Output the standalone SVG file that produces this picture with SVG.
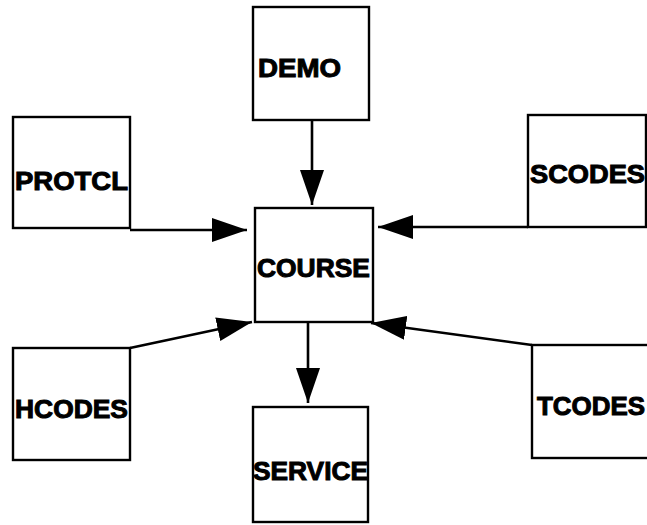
<svg xmlns="http://www.w3.org/2000/svg" width="647" height="525" viewBox="0 0 647 525">
<style>
.box{fill:#fff;stroke:#000;stroke-width:2.4}
.lbl{font-family:"Liberation Sans",Arial,sans-serif;font-weight:bold;font-size:26px;fill:#000;stroke:#000;stroke-width:1}
.con{stroke:#000;stroke-width:2.6;fill:none;marker-end:url(#ah)}
</style>
<defs>
<marker id="ah" markerUnits="userSpaceOnUse" markerWidth="38" markerHeight="26" refX="35" refY="12" orient="auto">
<path d="M0,0 L35,12 L0,24 Z" fill="#000"/>
</marker>
</defs>
<g id="connectors">
<line class="con" x1="312" y1="120" x2="312" y2="205"/>
<line class="con" x1="130" y1="230" x2="247" y2="230"/>
<line class="con" x1="528" y1="227" x2="378" y2="227"/>
<line class="con" x1="130" y1="348" x2="252" y2="322"/>
<line class="con" x1="532" y1="345" x2="371" y2="323"/>
<line class="con" x1="308" y1="322" x2="308" y2="403"/>
</g>
<g id="DEMO"><rect class="box" x="253" y="7" width="116" height="113"/><text class="lbl" x="258" y="77" textLength="83" lengthAdjust="spacingAndGlyphs">DEMO</text></g>
<g id="PROTCL"><rect class="box" x="13" y="117" width="117" height="111"/><text class="lbl" x="15" y="190" textLength="113" lengthAdjust="spacingAndGlyphs">PROTCL</text></g>
<g id="SCODES"><rect class="box" x="528" y="115" width="118" height="112"/><text class="lbl" x="530" y="183" textLength="115" lengthAdjust="spacingAndGlyphs">SCODES</text></g>
<g id="COURSE"><rect class="box" x="255" y="208" width="118" height="114"/><text class="lbl" x="257" y="277" textLength="113" lengthAdjust="spacingAndGlyphs">COURSE</text></g>
<g id="HCODES"><rect class="box" x="13" y="348" width="117" height="112"/><text class="lbl" x="15" y="418" textLength="113" lengthAdjust="spacingAndGlyphs">HCODES</text></g>
<g id="TCODES"><rect class="box" x="532" y="345" width="118" height="113"/><text class="lbl" x="537" y="415" textLength="108" lengthAdjust="spacingAndGlyphs">TCODES</text></g>
<g id="SERVICE"><rect class="box" x="253" y="407" width="115" height="115"/><text class="lbl" x="253" y="480" textLength="115" lengthAdjust="spacingAndGlyphs">SERVICE</text></g>
</svg>
